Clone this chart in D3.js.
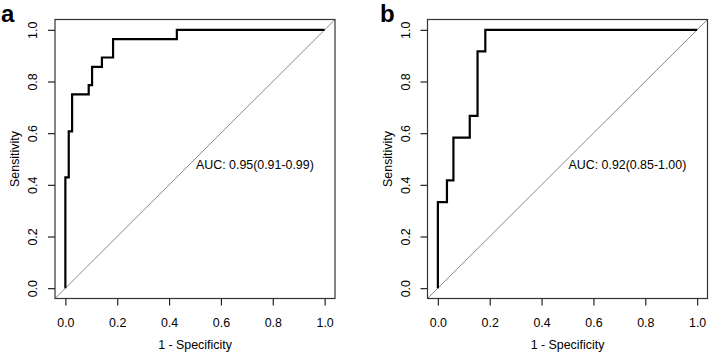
<!DOCTYPE html>
<html>
<head>
<meta charset="utf-8">
<script src="https://cdn.jsdelivr.net/npm/d3@7"></script>
<style>
  body { margin: 0; background: #fff; }
  svg text { font-family: "Liberation Sans", Arial, sans-serif; fill: #000; }
  .tick-label { font-size: 12.4px; }
  .axis-label { font-size: 12.4px; }
  .panel-tag { font-size: 24px; font-weight: bold; }
</style>
</head>
<body>
<svg width="709" height="352"></svg>
<script>
// ROC corner points (1 - specificity, sensitivity)
const fprA = [0, 0.013, 0.026, 0.09, 0.103, 0.141, 0.184, 0.43, 1];
const tprA = [0, 0.429, 0.607, 0.75, 0.786, 0.857, 0.893, 0.964, 1];
const fprB = [0, 0.035, 0.06, 0.123, 0.153, 0.183, 1];
const tprB = [0, 0.333, 0.417, 0.583, 0.667, 0.917, 1];
const panelTags = ['a', 'b'];
const aucLabels = ['AUC: 0.95(0.91-0.99)', 'AUC: 0.92(0.85-1.00)'];
const tickValues = [0, 0.2, 0.4, 0.6, 0.8, 1.0];

const svg = d3.select('svg');

const panels = [
  {left: 55, tag: panelTags[0], auc: aucLabels[0], fpr: fprA, tpr: tprA, tagX: 1},
  {left: 427.5, tag: panelTags[1], auc: aucLabels[1], fpr: fprB, tpr: tprB, tagX: 380}
];

const boxTop = 19.5, boxBottom = 298.5, boxW = 280;

panels.forEach((p) => {
  // R style: data range 0..1 extended 4% each side
  const x = d3.scaleLinear().domain([-0.04, 1.04]).range([p.left, p.left + boxW]);
  const y = d3.scaleLinear().domain([-0.04, 1.04]).range([boxBottom, boxTop]);

  const g = svg.append('g');

  // diagonal reference line, corner to corner
  g.append('line')
    .attr('x1', x(-0.04)).attr('y1', y(-0.04))
    .attr('x2', x(1.04)).attr('y2', y(1.04))
    .attr('stroke', '#8a8a8a').attr('stroke-width', 1);

  const pts = p.fpr.map((v, i) => [v, p.tpr[i]]);
  const line = d3.line().x(d => x(d[0])).y(d => y(d[1])).curve(d3.curveStepBefore);
  g.append('path').attr('d', line(pts))
    .attr('fill', 'none').attr('stroke', '#000').attr('stroke-width', 2.2);

  // box
  g.append('rect')
    .attr('x', p.left).attr('y', boxTop)
    .attr('width', boxW).attr('height', boxBottom - boxTop)
    .attr('fill', 'none').attr('stroke', '#333').attr('stroke-width', 1.2);

  // x axis
  const xAxis = g.append('g').attr('transform', 'translate(0,' + boxBottom + ')')
    .call(d3.axisBottom(x).tickValues(tickValues).tickSize(7).tickFormat(d3.format('.1f')));
  xAxis.select('.domain').remove();
  xAxis.attr('font-size', null).attr('font-family', null);
  xAxis.selectAll('.tick line').attr('stroke', '#222').attr('stroke-width', 1.2);
  xAxis.selectAll('.tick text').attr('class', 'tick-label')
    .attr('y', 28).attr('dy', 0);

  // y axis
  const yAxis = g.append('g').attr('transform', 'translate(' + p.left + ',0)')
    .call(d3.axisLeft(y).tickValues(tickValues).tickSize(7).tickFormat(d3.format('.1f')));
  yAxis.select('.domain').remove();
  yAxis.attr('font-size', null).attr('font-family', null);
  yAxis.selectAll('.tick line').attr('stroke', '#222').attr('stroke-width', 1.2);
  yAxis.selectAll('.tick text').attr('class', 'tick-label')
    .attr('x', null).attr('dy', null)
    .attr('text-anchor', 'middle')
    .attr('transform', 'translate(-18,0) rotate(-90)');

  // axis titles
  g.append('text').attr('class', 'axis-label')
    .attr('text-anchor', 'middle')
    .attr('x', (x(0) + x(1)) / 2).attr('y', 348.5)
    .text('1 - Specificity');
  g.append('text').attr('class', 'axis-label')
    .attr('text-anchor', 'middle')
    .attr('transform', 'translate(' + (p.left - 36) + ',' + ((y(0) + y(1)) / 2) + ') rotate(-90)')
    .text('Sensitivity');

  // AUC label, left edge at 0.5
  g.append('text').attr('class', 'axis-label')
    .attr('x', x(0.5) + 1).attr('y', 169)
    .text(p.auc);

  // panel tag
  svg.append('text').attr('class', 'panel-tag')
    .attr('x', p.tagX).attr('y', 22)
    .text(p.tag);
});
</script>
</body>
</html>
